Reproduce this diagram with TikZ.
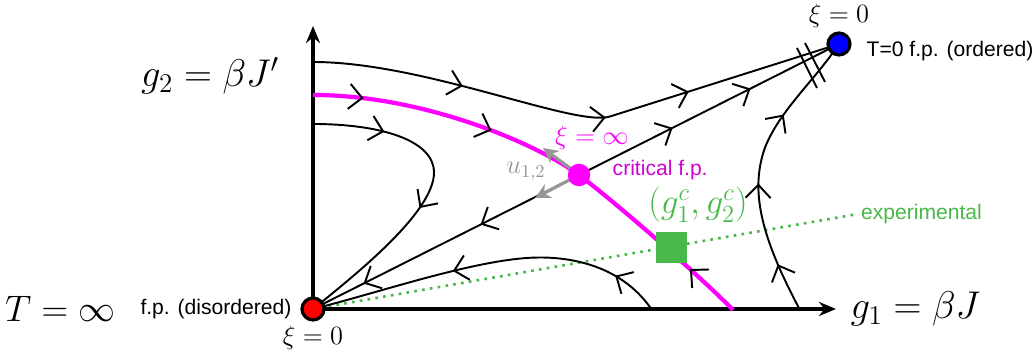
\RequirePackage{fix-cm}
\documentclass[tikz,border=0pt]{standalone}
\usepackage{amsmath}
\usepackage{fontspec}
\newfontfamily\labelfont{Liberation Sans}
\usepackage{xcolor}
\definecolor{flowmag}{RGB}{255,0,255}
\definecolor{critmag}{RGB}{210,0,210}
\definecolor{expgreen}{RGB}{72,185,72}
\definecolor{eigengray}{RGB}{150,150,150}
\usepackage{tikz}
\usetikzlibrary{
  arrows.meta, positioning, calc,
  decorations.markings
}
\tikzset{
  fbarb/.tip={Straight Barb[length=2.6mm, width=5mm, line width=1.1pt, color=black]},
  fmark/.style={postaction={decorate, decoration={markings,
      mark=at position #1 with {\arrow{fbarb}}}}},
  rmark/.style={postaction={decorate, decoration={markings,
      mark=at position #1 with {\arrowreversed{fbarb}}}}},
  flow/.style={line width=1.1pt, black},
  critline/.style={line width=2.4pt, flowmag},
  axis/.style={line width=2.3pt, -{Stealth[length=3.4mm, width=2.8mm]}},
  expline/.style={line width=1.5pt, expgreen, dash pattern=on 1.5pt off 3pt},
  eig/.style={line width=1.8pt, eigengray, -{Stealth[length=3mm, width=3mm]}},
  fixpt/.style={circle, draw=black, line width=1.8pt,
    minimum size=0.44cm, inner sep=0pt},
  mathlbl/.style={font=\fontsize{22}{26}\selectfont, inner sep=1pt},
  xilbl/.style={font=\fontsize{15}{18}\selectfont, inner sep=1pt},
  fplbl/.style={font=\labelfont\fontsize{12}{14}\selectfont, inner sep=1pt},
}
\begin{document}
\begin{tikzpicture}[node distance=0.2cm]
  \useasboundingbox (0,0) rectangle (20.66,7.2);
  % fixed points and axis ends
  \coordinate (O) at (6.26,1.02);
  \coordinate (B) at (16.78,6.32);
  \coordinate (C) at (11.58,3.70);
  \coordinate (xend) at (16.72,1.02);
  \coordinate (yend) at (6.26,6.68);
  \coordinate (expend) at (17.16,2.92);
  % where the flow lines meet the axes
  \coordinate (ytop) at (6.26,5.96);
  \coordinate (ymid) at (6.26,5.30);
  \coordinate (ylow) at (6.26,4.72);
  \coordinate (xmid) at (13.04,1.0);
  \coordinate (xcrit) at (14.66,1.0);
  \coordinate (xright) at (16.0,1.0);
  \coordinate (u1) at (10.86,4.24);
  \coordinate (u2) at (10.70,3.24);

  \draw[expline] (O) -- (expend);
  \draw[axis] (O) -- (xend);
  \draw[axis] (O) -- (yend);

  % flow lines
  \draw[flow, fmark=0.28, fmark=0.55, fmark=0.71]
    (ytop) .. controls (8.5,5.96) and (11.5,4.65) .. (12.2,4.87) -- (B);
  \draw[flow, fmark=0.22, fmark=0.55]
    (ylow) .. controls (7.6,4.72) and (8.68,4.4) .. (8.68,3.75)
    .. controls (8.68,3.0) and (7.3,1.85) .. (O);
  \draw[flow, rmark=0.19, rmark=0.63] (O) -- (C);
  \draw[flow, fmark=0.36, fmark=0.66] (C) -- (B);
  \draw[flow, fmark=0.14, fmark=0.6]
    (xmid) .. controls (12.5,1.8) and (11.6,2.05) .. (10.8,2.05)
    .. controls (9.6,2.05) and (7.6,1.35) .. (O);
  \draw[flow, fmark=0.17, fmark=0.45, fmark=0.7]
    (xright) .. controls (15.2,2.5) and (15.0,3.4) .. (15.3,4.25)
    .. controls (15.6,5.0) and (16.3,5.6) .. (B);
  \draw[flow] (15.94,6.24) -- (16.34,5.44);
  \draw[flow] (16.10,6.34) -- (16.50,5.56);

  % critical surface
  \draw[critline, fmark=0.18, fmark=0.65]
    (ymid) .. controls (8.5,5.3) and (10.78,4.30) .. (C);
  \draw[critline, fmark=0.29]
    (xcrit) .. controls (14.06,1.62) and (12.38,3.10) .. (C);

  \draw[eig] (C) -- (u1);
  \draw[eig] (C) -- (u2);

  \node[fill=expgreen, minimum size=0.62cm, inner sep=0pt] (exp) at (13.43,2.25) {};
  \node[fixpt, fill=red] (red) at (O) {};
  \node[fixpt, fill=blue] (blue) at (B) {};
  \node[circle, fill=flowmag, minimum size=0.45cm, inner sep=0pt] (crit) at (C) {};

  % labels
  \node[mathlbl] (g2) at (4.2,5.68) {$g_2=\beta J'$};
  \node[mathlbl, right=0.25cm of xend] (g1) {$g_1=\beta J$};
  \node[fplbl, left=0.14cm of red] (disord) {f.p. (disordered)};
  \node[mathlbl, font=\fontsize{21}{25}\selectfont, left=0.42cm of disord] (Tinf) {$T=\infty$};
  \node[xilbl, below=0.06cm of red] (xired) {$\xi=0$};
  \node[xilbl, above=0.04cm of blue] (xiblue) {$\xi=0$};
  \node[fplbl, right=0.26cm of blue, yshift=-4pt] (ord) {T=0 f.p. (ordered)};
  \node[fplbl, text=critmag, right=0.4cm of crit, yshift=3pt] (critlbl) {critical f.p.};
  \node[xilbl, text=flowmag] (xiinf) at (11.84,4.44) {$\xi=\infty$};
  \node[xilbl, text=eigengray] (ulbl) at (10.52,3.76) {$u_{1,2}$};
  \node[mathlbl, font=\fontsize{20}{24}\selectfont, text=expgreen] (gc) at (13.96,3.1) {$(g_1^c,g_2^c)$};
  \node[fplbl, text=expgreen, right=0.02cm of expend] (explbl) {experimental};
\end{tikzpicture}
\end{document}
